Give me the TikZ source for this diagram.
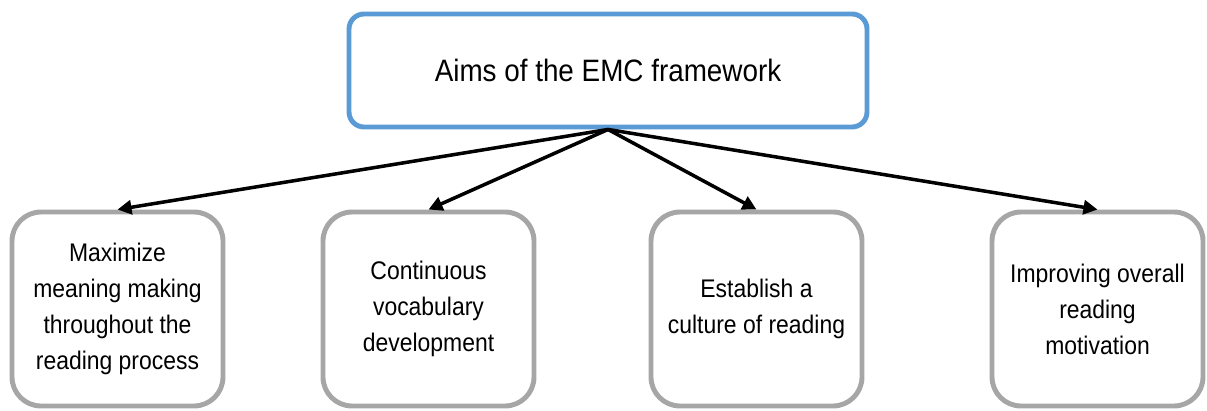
\documentclass[tikz,border=0pt]{standalone}
\usepackage{fontspec}
\setmainfont{Liberation Sans}[FakeStretch=0.9]
\usepackage{tikz}
\usetikzlibrary{arrows.meta, positioning}
\usepackage{xcolor}
\definecolor{aimBlue}{RGB}{91, 155, 213}
\definecolor{goalGray}{RGB}{166, 166, 166}

\begin{document}
\begin{tikzpicture}[
    aimbox/.style={rectangle, rounded corners=0.3cm, draw=aimBlue, fill=white, line width=2.8pt, minimum width=10.36cm, minimum height=2.26cm, align=center, font=\fontsize{17.6}{21}\selectfont},
    goalbox/.style={rectangle, rounded corners=0.58cm, draw=goalGray, fill=white, line width=2.8pt, minimum width=4.22cm, minimum height=3.88cm, align=center, font=\fontsize{14.5}{20.5}\selectfont},
    flow/.style={-{Triangle[length=8pt, width=8pt]}, draw=black, line width=2pt},
]
\useasboundingbox (0, 0) rectangle (24.14, -8.2);
% TOP
\node[aimbox] (aims) at (12.16, -1.41) {Aims of the EMC framework};
% GOALS
\node[goalbox] (meaning) at (2.35, -6.18) {Maximize\\meaning making\\throughout the\\reading process};
\node[goalbox] (vocab) at (8.57, -6.18) {Continuous\\vocabulary\\development};
\node[goalbox] (culture) at (15.13, -6.18) {Establish a\\culture of reading};
\node[goalbox] (motiv) at (21.95, -6.18) {Improving overall\\reading\\motivation};
% ARROWS
\draw[flow] (aims.south) -- (meaning.north);
\draw[flow] (aims.south) -- (vocab.north);
\draw[flow] (aims.south) -- (culture.north);
\draw[flow] (aims.south) -- (motiv.north);
\end{tikzpicture}
\end{document}
